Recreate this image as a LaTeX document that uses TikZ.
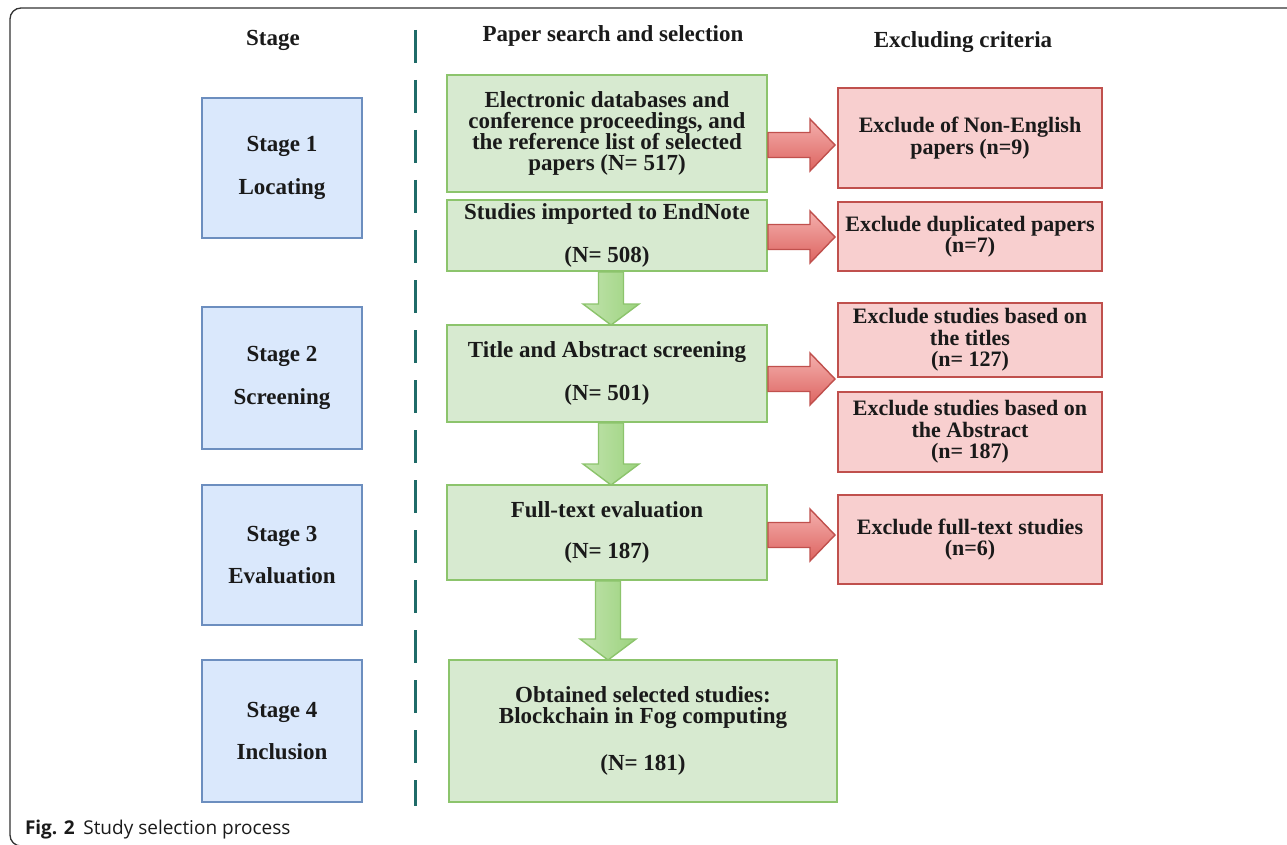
\documentclass[tikz,border=0pt]{standalone}
\usepackage{fontspec}
\setmainfont{Liberation Serif}
\newfontfamily\capfont{Open Sans}
\usetikzlibrary{calc}
\definecolor{bluefill}{HTML}{DAE8FC}
\definecolor{blueline}{HTML}{6C8EBF}
\definecolor{greenfill}{HTML}{D7EAD0}
\definecolor{greenline}{HTML}{8CC46C}
\definecolor{redfill}{HTML}{F8CFCF}
\definecolor{redline}{HTML}{C0504D}
\definecolor{redtop}{HTML}{F4B0AE}
\definecolor{redbot}{HTML}{DD6460}
\definecolor{greenA}{HTML}{C2E3AE}
\definecolor{greenB}{HTML}{9CD37E}
\definecolor{dashteal}{HTML}{1F6B68}
\definecolor{txtcol}{HTML}{1A1A1A}
\setlength{\lineskiplimit}{-100pt}
\newcommand\hblock[2]{\path[redarr] ($(#1)+(1,-12.5)$) -- ($(#2)+(-28,-12.5)$) -- ($(#2)+(-28,-26)$) -- ($(#2)+(-3,0)$) -- ($(#2)+(-28,26)$) -- ($(#2)+(-28,12.5)$) -- ($(#1)+(1,12.5)$) -- cycle;}
\newcommand\vblock[2]{\path[greenarr] ($(#1)+(-12.5,1)$) -- ($(#2)+(-12.5,-21)$) -- ($(#2)+(-28,-21)$) -- (#2) -- ($(#2)+(28,-21)$) -- ($(#2)+(12.5,-21)$) -- ($(#1)+(12.5,1)$) -- cycle;}
\begin{document}
\begin{tikzpicture}[x=1pt,y=-1pt,
 every node/.style={inner sep=0pt, outer sep=0pt},
 txt/.style={font=\bfseries\fontsize{23}{21.3}\selectfont, align=center, text=txtcol},
 redtxt/.style={font=\bfseries\fontsize{22}{21.3}\selectfont, align=center, text=txtcol},
 stagebox/.style={txt, draw=blueline, fill=bluefill, line width=2.2pt, minimum width=160, minimum height=140},
 greenbox/.style={txt, draw=greenline, fill=greenfill, line width=2.2pt},
 redbox/.style={redtxt, draw=redline, fill=redfill, line width=2.2pt, minimum width=264},
 redarr/.style={draw=redline, line width=1.4pt, top color=redtop, bottom color=redbot, line join=miter},
 greenarr/.style={draw=greenline, line width=1.4pt, left color=greenA, right color=greenB, line join=miter},
 header/.style={font=\bfseries\fontsize{23}{23}\selectfont, text=txtcol},
 dashline/.style={draw=dashteal, line width=3pt, dash pattern=on 33pt off 17pt}
]
\setlength{\lineskiplimit}{-100pt}
\useasboundingbox (0,0) rectangle (1287,845);
\fill[white] (0,0) rectangle (1287,845);
% frame
\draw[draw=black!80, line width=1.3pt, rounded corners=11pt] (1300,846) -- (10,846) -- (10,8) -- (1300,8);
% headers
\node[header] (h1) at (273,40) {Stage};
\node[header] (h2) at (613,36) {Paper search and selection};
\node[header] (h3) at (963,42) {Excluding criteria};
% dashed separator
\coordinate (dtop) at (415,30);
\coordinate (dbot) at (415,806);
\draw[dashline] (dtop) -- (dbot);
% stage boxes
\node[stagebox] (s1) at (282,168) {Stage 1\\[21pt]Locating};
\node[stagebox, minimum height=142] (s2) at (282,378) {Stage 2\\[21pt]Screening};
\node[stagebox] (s3) at (282,555) {Stage 3\\[21pt]Evaluation};
\node[stagebox, minimum height=142] (s4) at (282,731) {Stage 4\\[21pt]Inclusion};
% green boxes
\node[greenbox, minimum width=320, minimum height=117] (g1) at (607,133.5) {Electronic databases and\\conference proceedings, and\\the reference list of selected\\papers (N= 517)};
\node[greenbox, minimum width=320, minimum height=71] (g2) at (607,235.5) {Studies imported to EndNote\\[21pt](N= 508)};
\node[greenbox, minimum width=320, minimum height=97] (g3) at (607,373.5) {Title and Abstract screening\\[22pt](N= 501)};
\node[greenbox, minimum width=320, minimum height=95] (g4) at (607,532.5) {Full-text evaluation\\[20pt](N= 187)};
\node[greenbox, minimum width=388, minimum height=142] (g5) at (643,731) {Obtained selected studies:\\Blockchain in Fog computing\\[26pt](N= 181)};
% red boxes
\node[redbox, minimum height=100] (r1) at (970,138) {Exclude of Non-English\\papers (n=9)};
\node[redbox, minimum height=69] (r2) at (970,236.5) {Exclude duplicated papers\\(n=7)};
\node[redbox, minimum height=74] (r3) at (970,340) {Exclude studies based on\\the titles\\(n= 127)};
\node[redbox, minimum height=80] (r4) at (970,432) {Exclude studies based on\\the Abstract\\(n= 187)};
\node[redbox, minimum height=89] (r5) at (970,539.5) {Exclude full-text studies\\(n=6)};
% red block arrows
\coordinate (ra1s) at (g1.east |- 0,145); \coordinate (ra1e) at (r1.west |- 0,145);
\coordinate (ra2s) at (g2.east |- 0,237); \coordinate (ra2e) at (r2.west |- 0,237);
\coordinate (ra3s) at (g3.east |- 0,379); \coordinate (ra3e) at (r3.west |- 0,379);
\coordinate (ra4s) at (g4.east |- 0,535); \coordinate (ra4e) at (r5.west |- 0,535);
\hblock{ra1s}{ra1e}
\hblock{ra2s}{ra2e}
\hblock{ra3s}{ra3e}
\hblock{ra4s}{ra4e}
% green block arrows
\coordinate (va1s) at (g2.south -| 611,0); \coordinate (va1e) at (g3.north -| 611,0);
\coordinate (va2s) at (g3.south -| 611,0); \coordinate (va2e) at (g4.north -| 611,0);
\coordinate (va3s) at (g4.south -| 608,0); \coordinate (va3e) at (g5.north -| 608,0);
\vblock{va1s}{va1e}
\vblock{va2s}{va2e}
\vblock{va3s}{va3e}
% caption
\node[anchor=base west, font=\capfont\fontsize{19}{19}\selectfont, text=txtcol] (cap) at (25,834) {\textbf{Fig. 2}\hspace{0.45em}Study selection process};
\end{tikzpicture}
\end{document}
